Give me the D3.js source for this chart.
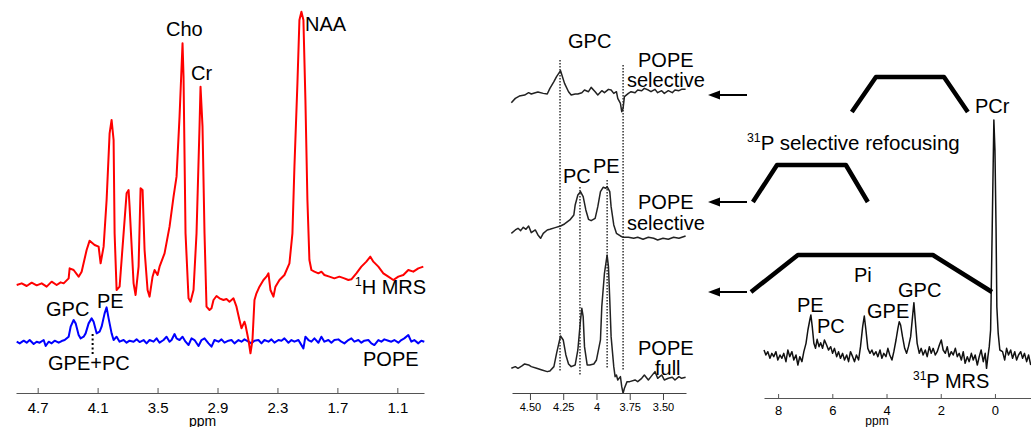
<!DOCTYPE html>
<html><head><meta charset="utf-8">
<script src="https://cdn.jsdelivr.net/npm/d3@7"></script>
<style>
body{margin:0;background:#fff}
text{font-family:"Liberation Sans",Arial,sans-serif;fill:#000}
</style>
</head><body>
<svg id="c" width="1031" height="427"></svg>
<script>
// ---------- DATA ----------
// Panel A: 1H MRS and POPE (ppm, intensity a.u.)
const hTicks = [4.7, 4.1, 3.5, 2.9, 2.3, 1.7, 1.1];
const hMRS = [
[4.91,0],[4.86,0.5],[4.81,-0.3],[4.76,0.7],[4.71,-0.1],[4.66,0.5],[4.61,-0.5],[4.56,1.0],[4.51,0],[4.47,0.8],[4.44,0.5],[4.39,2.0],[4.38,5.0],[4.34,4.5],[4.29,2.5],[4.26,4.0],[4.21,10.5],[4.18,13.3],[4.13,12],[4.09,11.5],[4.07,6.5],[4.04,11.5],[4.01,25.5],[3.98,45.5],[3.96,49.5],[3.94,43.5],[3.93,15.5],[3.91,-1.5],[3.88,-0.5],[3.84,15.5],[3.81,27.5],[3.79,28.5],[3.78,23.5],[3.74,0.5],[3.72,-3.0],[3.69,5.5],[3.67,29],[3.65,28.5],[3.63,10.5],[3.60,-1.5],[3.58,-3.5],[3.55,2.5],[3.53,4.5],[3.50,3.0],[3.48,5.5],[3.43,9.5],[3.38,17.5],[3.34,26.5],[3.31,32.5],[3.28,50.5],[3.25,72.5],[3.24,62.5],[3.22,15.5],[3.19,-4.0],[3.17,-5.0],[3.14,-1.5],[3.11,15.5],[3.08,47.5],[3.07,59.5],[3.05,47.5],[3.03,15.5],[3.01,-6.5],[2.98,-7.5],[2.96,-7.0],[2.94,-4.5],[2.91,-3.3],[2.88,-4.0],[2.84,-4.5],[2.81,-4.2],[2.78,-5.0],[2.74,-4.0],[2.71,-6.5],[2.68,-10.5],[2.66,-13.0],[2.63,-11.0],[2.62,-12.0],[2.59,-16.5],[2.57,-20.5],[2.55,-16.5],[2.53,-4.5],[2.51,-2.5],[2.48,-0.5],[2.44,1.5],[2.41,2.5],[2.39,3.5],[2.37,-1.5],[2.34,-3.5],[2.32,-0.5],[2.28,1.5],[2.23,3.0],[2.18,6.5],[2.15,15.5],[2.13,35.5],[2.10,60.5],[2.08,79.5],[2.06,82],[2.04,79.5],[2.02,55.5],[2.00,25.5],[1.98,7.5],[1.96,4.5],[1.93,4.0],[1.89,3.5],[1.86,4.0],[1.83,3.0],[1.78,2.5],[1.73,2.0],[1.68,2.5],[1.63,2.0],[1.59,1.5],[1.56,1.7],[1.51,3.5],[1.46,5.5],[1.41,7.0],[1.37,8.5],[1.34,7.0],[1.29,5.5],[1.24,3.5],[1.19,2.5],[1.14,1.5],[1.09,2.5],[1.04,3.0],[0.99,4.5],[0.94,4.0],[0.89,5.0],[0.84,5.5]
];
const popeH = [
[4.91,0],[4.88,-0.5],[4.84,0.3],[4.81,-0.3],[4.78,0.5],[4.74,-0.7],[4.71,0],[4.68,-0.3],[4.64,0.5],[4.62,-1.3],[4.59,0],[4.56,-0.5],[4.53,0.3],[4.49,-0.3],[4.46,0.2],[4.43,0.5],[4.39,1.5],[4.37,4.5],[4.34,6.5],[4.32,5.5],[4.29,2],[4.27,1],[4.24,1.5],[4.22,2.5],[4.19,5.5],[4.16,7],[4.14,6],[4.11,2.5],[4.08,3],[4.06,4.5],[4.03,8.5],[4.01,10.3],[3.99,7],[3.96,2.5],[3.94,0.5],[3.91,1.5],[3.88,0],[3.84,0.5],[3.81,-0.3],[3.78,0.3],[3.74,0],[3.71,0.7],[3.68,-0.1],[3.64,0.5],[3.61,-0.5],[3.58,0.5],[3.54,0],[3.51,1],[3.48,-0.3],[3.44,0.5],[3.41,1.5],[3.38,0],[3.36,0.5],[3.33,2.3],[3.31,1],[3.28,0.5],[3.25,1.5],[3.22,0],[3.19,-1],[3.16,1],[3.13,0.5],[3.09,-1.3],[3.06,0.5],[3.03,1],[2.99,-0.5],[2.96,-1.5],[2.93,0.5],[2.89,0],[2.86,0.7],[2.83,-0.3],[2.79,0.3],[2.76,0.5],[2.73,-0.5],[2.69,0.5],[2.66,0],[2.63,0.7],[2.59,0],[2.56,-0.5],[2.53,0.3],[2.49,0.5],[2.46,-0.5],[2.43,0.5],[2.39,0],[2.36,0.7],[2.33,-0.3],[2.29,0.5],[2.26,0.3],[2.23,1],[2.19,-0.3],[2.16,0.5],[2.13,0],[2.09,0.5],[2.07,-0.5],[2.04,-2],[2.02,1.5],[1.99,0.5],[1.96,0],[1.93,1],[1.89,-0.3],[1.86,1.5],[1.83,0],[1.79,0.5],[1.76,-0.3],[1.73,0.5],[1.69,0.7],[1.66,0],[1.63,-0.5],[1.59,0.5],[1.56,1],[1.53,0],[1.49,0.5],[1.46,-0.3],[1.43,0.3],[1.39,0.5],[1.36,-0.5],[1.33,-1],[1.29,0.5],[1.26,0],[1.23,0.7],[1.19,0.3],[1.16,0],[1.13,0.5],[1.09,-0.3],[1.06,0.5],[1.03,1],[0.99,2],[0.96,0],[0.93,0.5],[0.89,-0.5],[0.86,0.3],[0.83,0]
];
const gpePcPpm = 4.15;

// Panel B: POPE selective / full
const midTicks = [4.5, 4.25, 4, 3.75, 3.5];
const midTickLabels = ["4.50", "4.25", "4", "3.75", "3.50"];
const popeSelGPC = [
[4.64,-3.0],[4.61,-1.7],[4.58,-1.0],[4.54,-0.7],[4.51,0],[4.49,-0.4],[4.46,0],[4.44,0.2],[4.40,-0.2],[4.37,-0.4],[4.35,1.3],[4.32,3.3],[4.30,4.8],[4.27,6.6],[4.26,5.3],[4.24,2.8],[4.21,0.3],[4.19,-0.7],[4.16,-0.4],[4.14,-0.4],[4.11,0],[4.09,0.8],[4.06,0.3],[4.04,1.6],[4.01,0.3],[3.99,-0.7],[3.96,0.6],[3.94,0],[3.91,1.0],[3.89,0.8],[3.87,-0.2],[3.85,0.3],[3.84,-1.7],[3.82,-3.2],[3.81,-5.7],[3.80,-4.7],[3.79,-1.2],[3.76,-0.2],[3.74,0.3],[3.71,0],[3.69,0.8],[3.66,0.6],[3.64,1.3],[3.61,0.8],[3.59,0.3],[3.56,1.0],[3.54,0],[3.51,0.6],[3.49,-0.2],[3.46,0.6],[3.43,0],[3.41,0.8],[3.38,0.6],[3.36,1.0],[3.33,1.0]
];
const popeSelPE = [
[4.64,1.2],[4.61,2.2],[4.59,2.7],[4.57,2.0],[4.55,3.0],[4.53,2.4],[4.51,3.4],[4.49,1.4],[4.46,2.2],[4.44,0.7],[4.42,-0.3],[4.40,1.2],[4.37,2.2],[4.35,2.4],[4.31,2.9],[4.27,3.4],[4.24,4.0],[4.20,5.2],[4.17,6.7],[4.16,9.7],[4.14,12.7],[4.12,13.7],[4.10,12.2],[4.08,8.2],[4.06,5.4],[4.04,5.0],[4.01,5.7],[3.99,9.2],[3.97,13.7],[3.95,15.0],[3.93,14.7],[3.92,15.2],[3.90,13.7],[3.89,9.2],[3.87,3.7],[3.85,1.2],[3.82,0.4],[3.80,0],[3.76,0],[3.72,-0.3],[3.69,0],[3.65,-0.6],[3.61,0],[3.57,-0.3],[3.54,-0.8],[3.50,-0.3],[3.46,-0.6],[3.42,0],[3.38,-0.3],[3.33,0.4]
];
const popeFull = [
[4.64,0],[4.61,0.5],[4.59,0],[4.56,0.7],[4.54,1.3],[4.51,1.0],[4.49,0.5],[4.45,0],[4.41,-0.5],[4.37,-1.0],[4.35,-0.8],[4.32,0.5],[4.30,4.5],[4.28,8.0],[4.27,9.7],[4.25,8.5],[4.23,4.0],[4.21,1.3],[4.19,0.5],[4.16,1.0],[4.14,5.5],[4.12,14.5],[4.11,18.0],[4.10,15.5],[4.09,6.5],[4.07,1.0],[4.05,1.0],[4.02,1.3],[4.00,2.5],[3.97,8.5],[3.96,18.5],[3.94,28.5],[3.92,34.0],[3.91,30.5],[3.90,20.5],[3.89,9.5],[3.87,0.5],[3.86,-2.5],[3.85,-2.0],[3.84,-3.5],[3.82,-2.5],[3.81,-5.5],[3.80,-7.5],[3.79,-6.0],[3.77,-4.0],[3.75,-4.0],[3.71,-3.5],[3.69,-4.0],[3.66,-3.0],[3.64,-2.0],[3.61,-3.5],[3.59,-2.5],[3.56,-1.0],[3.54,-3.0],[3.51,-2.0],[3.49,-3.5],[3.46,-3.0],[3.43,-2.7],[3.41,-3.5],[3.38,-2.5],[3.36,-3.0],[3.33,-2.7]
];
const midMarkers = [4.274, 4.124, 3.92, 3.80];

// Panel C: 31P MRS
const pTicks = [8, 6, 4, 2, 0];
const pMRS = [
[8.52,1.5],[8.45,0],[8.38,1.0],[8.30,-1.0],[8.23,0.5],[8.16,-0.5],[8.08,1.0],[8.01,-1.5],[7.93,0],[7.86,-1.0],[7.79,0.5],[7.71,-2.0],[7.64,1.5],[7.57,-0.5],[7.49,1.0],[7.42,-1.5],[7.34,0],[7.27,-3.0],[7.20,-0.5],[7.12,-2.0],[7.05,1.0],[6.97,3.5],[6.90,7.5],[6.83,10.5],[6.79,12.0],[6.74,8.5],[6.68,3.5],[6.62,2.0],[6.56,4.7],[6.49,2.5],[6.43,3.7],[6.36,2.0],[6.29,4.5],[6.21,3.0],[6.14,1.5],[6.06,2.5],[5.99,0.5],[5.92,2.0],[5.84,-0.5],[5.77,1.0],[5.70,-1.0],[5.62,0.5],[5.55,-1.5],[5.47,0],[5.40,-2.0],[5.33,1.0],[5.25,-0.5],[5.18,-2.0],[5.11,0],[5.03,-1.5],[4.96,2.5],[4.88,8.5],[4.82,11.7],[4.76,7.5],[4.69,2.0],[4.61,0.5],[4.54,1.5],[4.47,0],[4.39,1.0],[4.32,-0.5],[4.24,1.5],[4.17,-1.0],[4.10,0.5],[4.02,-0.5],[3.95,2.0],[3.88,0],[3.80,-1.5],[3.73,1.0],[3.65,4.5],[3.58,8.0],[3.53,10.0],[3.48,9.0],[3.41,5.5],[3.33,2.0],[3.26,0.5],[3.19,2.5],[3.11,5.5],[3.04,11.5],[2.99,15.7],[2.94,10.5],[2.87,3.5],[2.79,0.5],[2.72,2.0],[2.65,0],[2.57,1.5],[2.50,-0.5],[2.42,2.5],[2.35,0.5],[2.28,2.0],[2.20,0],[2.13,1.0],[2.05,3.0],[1.98,4.5],[1.91,1.5],[1.83,0.5],[1.76,2.5],[1.69,-0.5],[1.61,1.0],[1.54,0],[1.46,2.0],[1.39,-0.5],[1.32,0.5],[1.24,-1.5],[1.17,1.0],[1.10,-2.5],[1.02,-0.5],[0.95,-2.0],[0.87,0.5],[0.80,-1.5],[0.73,0],[0.65,-3.0],[0.58,-0.5],[0.51,1.5],[0.43,-2.0],[0.36,0.5],[0.31,-4.0],[0.26,-0.5],[0.21,2.5],[0.16,7.5],[0.10,38.5],[0.04,70.5],[0.00,61.5],[-0.04,38.5],[-0.07,14.5],[-0.12,6.5],[-0.18,1.5],[-0.28,1.0],[-0.36,-1.5],[-0.43,2.0],[-0.50,0],[-0.58,1.5],[-0.65,-1.0],[-0.73,1.0],[-0.80,-1.5],[-0.87,0],[-0.95,1.0],[-1.02,-1.0],[-1.09,0.5],[-1.17,-2.0],[-1.24,0],[-1.32,-3.0]
];
// selective refocusing pulse profiles (ppm corners, relative level)
const pulseA = [[5.28,0],[4.39,1],[1.88,1],[1.00,0]];
const pulseB = [[8.93,0],[8.04,1],[5.50,1],[4.69,0]];
const pulseFull = [[9.00,0],[7.27,1],[2.29,1],[0.11,0]];

// ---------- DRAWING ----------
const svg = d3.select("#c");
const K = 10/3; // px per intensity unit

function trace(data, x, y, color, w) {
  svg.append("path").datum(data)
    .attr("fill","none").attr("stroke",color).attr("stroke-width",w)
    .attr("stroke-linejoin","round")
    .attr("d", d3.line().x(d=>x(d[0])).y(d=>y(d[1])));
}
function label(txt, x, y, size, anchor) {
  return svg.append("text").attr("x",x).attr("y",y)
    .attr("font-size",size||20).attr("text-anchor",anchor||"start").text(txt);
}
function supLabel(sup, main, x, y, size) {
  const t = svg.append("text").attr("x",x).attr("y",y).attr("font-size",size||20);
  t.append("tspan").attr("font-size",(size||20)*0.6).attr("dy",-8).text(sup);
  t.append("tspan").attr("dy",8).text(main);
}

// Panel A
const xH = d3.scaleLinear().domain([4.917, 0.833]).range([16, 424]);
const yH = d3.scaleLinear().domain([0, 82]).range([285, 285 - 82*K]);
const yPope = d3.scaleLinear().domain([0, 82]).range([341.7, 341.7 - 82*K]);
trace(popeH, xH, yPope, "#0000ff", 2);
trace(hMRS, xH, yH, "#ff0000", 2);
svg.append("line").attr("x1",xH(gpePcPpm)).attr("x2",xH(gpePcPpm))
  .attr("y1",334).attr("y2",354).attr("stroke","#000").attr("stroke-width",2)
  .attr("stroke-dasharray","2,2.5");
const axA = svg.append("g").attr("transform","translate(0,393)")
  .call(d3.axisBottom(xH).tickValues(hTicks).tickFormat(d3.format(".1f")).tickSizeInner(-5).tickSizeOuter(0).tickPadding(9));
axA.select(".domain").attr("stroke","#555");
axA.selectAll(".tick line").attr("stroke","#555");
axA.selectAll(".tick text").attr("font-size",15).style("font-family","Liberation Sans, Arial").attr("fill","#222");
label("ppm", xH(3.05), 426, 14, "middle").attr("fill","#222");

label("Cho", 166, 36);
label("Cr", 191, 80);
label("NAA", 305, 31);
supLabel("1", "H MRS", 355, 294);
label("POPE", 363, 366);
label("GPC", 46, 316);
label("PE", 97, 308);
label("GPE+PC", 48, 370);

// Panel B
const xM = d3.scaleLinear().domain([4.635, 3.327]).range([512, 686]);
const yM1 = d3.scaleLinear().domain([0, 10]).range([92.7, 92.7 - 10*K]);
const yM2 = d3.scaleLinear().domain([0, 10]).range([237.3, 237.3 - 10*K]);
const yM3 = d3.scaleLinear().domain([0, 10]).range([368.3, 368.3 - 10*K]);
const markerExt = [[60,372],[187,375],[180,368],[65,370]];
midMarkers.forEach((p,i)=>{
  svg.append("line").attr("x1",xM(p)).attr("x2",xM(p))
    .attr("y1",markerExt[i][0]).attr("y2",markerExt[i][1])
    .attr("stroke","#000").attr("stroke-width",1.2).attr("stroke-dasharray","1.5,1.5");
});
trace(popeSelGPC, xM, yM1, "#222", 1.5);
trace(popeSelPE, xM, yM2, "#222", 1.5);
trace(popeFull, xM, yM3, "#222", 1.5);
const axB = svg.append("g").attr("transform","translate(0,393)")
  .call(d3.axisBottom(xM).tickValues(midTicks).tickFormat((d,i)=>midTickLabels[i]).tickSizeInner(7).tickSizeOuter(0).tickPadding(3));
axB.select(".domain").attr("stroke","#444");
axB.selectAll(".tick line").attr("stroke","#444");
axB.selectAll(".tick text").attr("font-size",11).style("font-family","Liberation Sans, Arial").attr("fill","#333");

label("GPC", 568, 48);
label("POPE", 638, 67);
label("selective", 627, 87);
label("PC", 563, 183);
label("PE", 593, 173);
label("POPE", 638, 209);
label("selective", 627, 230);
label("POPE", 638, 355);
label("full", 655, 375);

// arrows
[95, 202, 292].forEach(y=>{
  svg.append("line").attr("x1",718).attr("x2",747).attr("y1",y).attr("y2",y)
    .attr("stroke","#000").attr("stroke-width",2);
  svg.append("path").attr("d",`M708,${y}L720,${y-4.5}L720,${y+4.5}Z`).attr("fill","#000");
});

// Panel C
const xP = d3.scaleLinear().domain([8.52, -1.33]).range([764, 1031]);
const yP = d3.scaleLinear().domain([0, 10]).range([355, 355 - 10*K]);
trace(pMRS, xP, yP, "#111", 1.5);
const pulseLevels = [[112,77],[202,165],[292,255]];
[pulseA, pulseB, pulseFull].forEach((pl,i)=>{
  const yy = d3.scaleLinear().domain([0,1]).range(pulseLevels[i]);
  trace(pl, xP, yy, "#000", 4.5);
});
const axC = svg.append("g").attr("transform","translate(0,398)")
  .call(d3.axisBottom(xP).tickValues(pTicks).tickFormat(d3.format("d")).tickSizeInner(-4).tickSizeOuter(0).tickPadding(8));
axC.select(".domain").attr("stroke","#555");
axC.selectAll(".tick line").attr("stroke","#555");
axC.selectAll(".tick text").attr("font-size",13).style("font-family","Liberation Sans, Arial").attr("fill","#222");
label("ppm", xP(4.35), 425, 12, "middle").attr("fill","#222");

label("PCr", 975, 113);
supLabel("31", "P selective refocusing", 747, 150, 20.5);
label("Pi", 854, 282);
label("PE", 797, 312);
label("PC", 817, 333);
label("GPE", 867, 318);
label("GPC", 898, 297);
supLabel("31", "P MRS", 913, 388);
</script>
</body></html>
